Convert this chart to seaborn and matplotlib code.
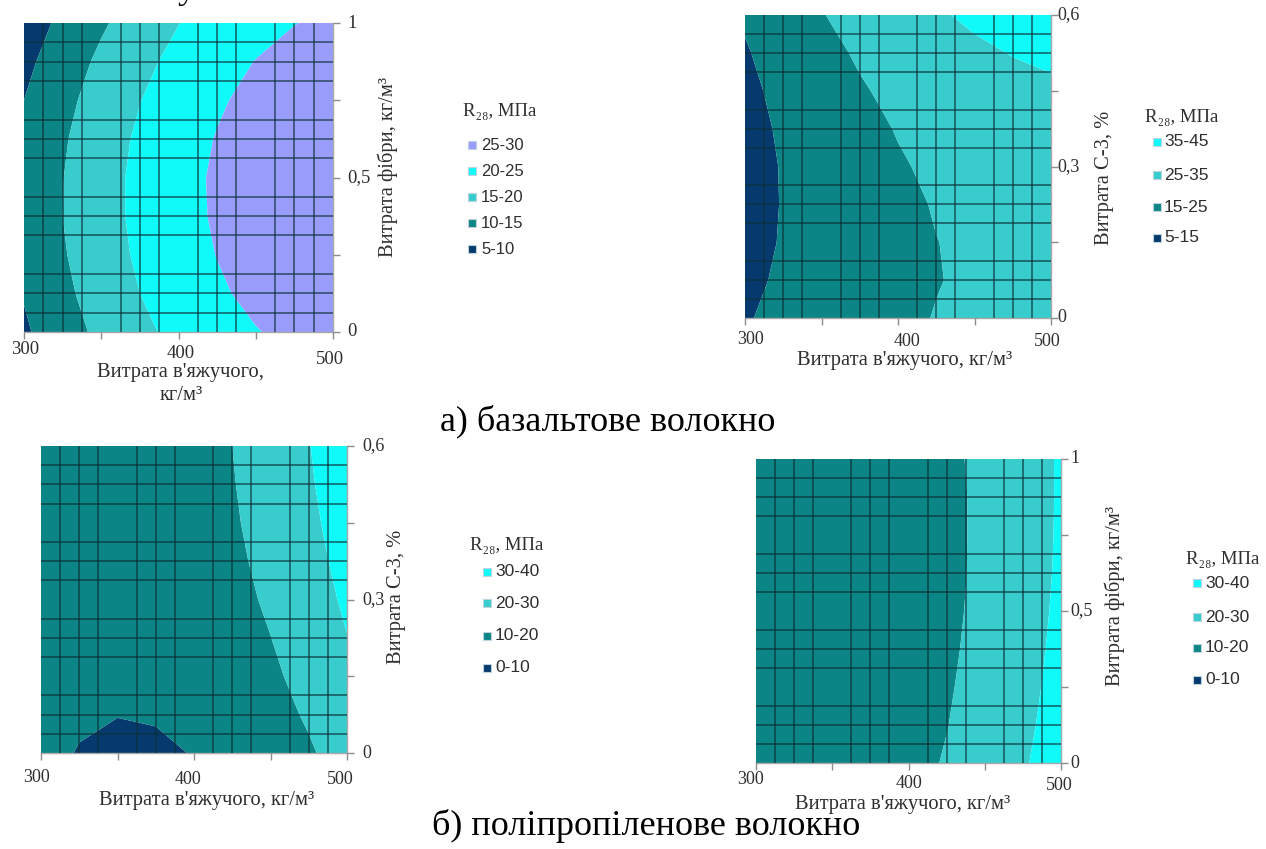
import numpy as np
import matplotlib
matplotlib.use('Agg')
import matplotlib.pyplot as plt
import seaborn as sns
from matplotlib.patches import Rectangle

# ---------------- data ----------------
binder = [300, 325, 350, 375, 400, 425, 450, 475, 500]          # кг/м³
fibre = [0, 0.125, 0.25, 0.375, 0.5, 0.625, 0.75, 0.875, 1.0]   # кг/м³
s3 = [0, 0.075, 0.15, 0.225, 0.3, 0.375, 0.45, 0.525, 0.6]      # %

# R28, МПа — rows follow the y values (bottom -> top), columns follow binder
z_basalt_fibre = [
    [9.3, 12.9, 16.1, 18.9, 21.3, 23.3, 24.8, 26.0, 26.7],
    [10.3, 13.9, 17.2, 20.0, 22.4, 24.4, 26.0, 27.1, 27.9],
    [11.0, 14.6, 17.9, 20.7, 23.1, 25.1, 26.7, 27.9, 28.7],
    [11.3, 15.0, 18.2, 21.1, 23.5, 25.5, 27.1, 28.3, 29.1],
    [11.2, 14.9, 18.2, 21.1, 23.5, 25.6, 27.2, 28.4, 29.2],
    [10.8, 14.5, 17.8, 20.7, 23.2, 25.2, 26.8, 28.1, 28.9],
    [10.0, 13.7, 17.0, 19.9, 22.4, 24.5, 26.1, 27.4, 28.2],
    [8.8, 12.6, 15.9, 18.8, 21.3, 23.4, 25.1, 26.3, 27.2],
    [7.3, 11.1, 14.4, 17.3, 19.9, 22.0, 23.6, 24.9, 25.8]]
z_basalt_s3 = [
    [14.3, 17.3, 20.0, 22.2, 23.9, 25.2, 26.0, 26.4, 26.3],
    [13.0, 16.3, 19.1, 21.4, 23.3, 24.8, 25.8, 26.4, 26.5],
    [12.1, 15.6, 18.6, 21.1, 23.2, 24.9, 26.1, 26.8, 27.1],
    [11.7, 15.4, 18.5, 21.3, 23.5, 25.4, 26.7, 27.6, 28.1],
    [11.7, 15.5, 18.9, 21.8, 24.3, 26.3, 27.8, 28.9, 29.6],
    [12.2, 16.1, 19.7, 22.8, 25.4, 27.6, 29.3, 30.6, 31.4],
    [13.0, 17.2, 20.9, 24.2, 27.0, 29.4, 31.3, 32.7, 33.7],
    [14.3, 18.6, 22.5, 26.0, 29.0, 31.5, 33.6, 35.3, 36.5],
    [16.0, 20.5, 24.6, 28.2, 31.4, 34.1, 36.4, 38.2, 39.6]]
z_pp_s3 = [
    [11.7, 9.7, 8.9, 9.1, 10.2, 12.2, 15.1, 19.0, 23.9],
    [12.4, 10.8, 10.1, 10.4, 11.6, 13.8, 16.9, 21.0, 26.0],
    [12.9, 11.5, 11.0, 11.4, 12.8, 15.2, 18.5, 22.8, 28.0],
    [13.3, 12.0, 11.7, 12.3, 13.9, 16.4, 19.9, 24.4, 29.8],
    [13.4, 12.4, 12.2, 13.0, 14.8, 17.5, 21.2, 25.8, 31.4],
    [13.4, 12.5, 12.6, 13.6, 15.5, 18.4, 22.2, 27.0, 32.8],
    [13.2, 12.5, 12.7, 13.9, 16.0, 19.1, 23.1, 28.1, 34.0],
    [12.9, 12.3, 12.7, 14.1, 16.4, 19.6, 23.8, 29.0, 35.1],
    [12.3, 11.9, 12.5, 14.1, 16.5, 20.0, 24.4, 29.7, 36.0]]
z_pp_fibre = [
    [12.4, 12.5, 13.4, 15.1, 17.5, 20.6, 24.5, 29.1, 34.5],
    [11.9, 12.0, 12.8, 14.4, 16.7, 19.8, 23.6, 28.2, 33.5],
    [11.5, 11.6, 12.4, 13.9, 16.2, 19.2, 23.0, 27.5, 32.7],
    [11.3, 11.3, 12.0, 13.5, 15.7, 18.7, 22.4, 26.9, 32.1],
    [11.2, 11.1, 11.8, 13.3, 15.4, 18.3, 22.0, 26.4, 31.6],
    [11.3, 11.1, 11.8, 13.2, 15.3, 18.1, 21.7, 26.1, 31.2],
    [11.5, 11.3, 11.9, 13.2, 15.3, 18.1, 21.6, 25.9, 31.0],
    [11.8, 11.6, 12.1, 13.4, 15.4, 18.1, 21.6, 25.9, 30.9],
    [12.3, 12.0, 12.5, 13.7, 15.7, 18.4, 21.8, 26.0, 30.9]]

levels_a1 = [5, 10, 15, 20, 25, 30]
levels_a2 = [5, 15, 25, 35, 45]
levels_b = [0, 10, 20, 30, 40]
x_ticks = [300, 350, 400, 450, 500]
x_ticklabels = ['300', '', '400', '', '500']
fib_ticks = [0, 0.25, 0.5, 0.75, 1.0]
fib_ticklabels = ['0', '', '0,5', '', '1']
s3_ticks = [0, 0.15, 0.3, 0.45, 0.6]
s3_ticklabels = ['0', '', '0,3', '', '0,6']

# ---------------- styling ----------------
W, H = 1266, 849
sns.set_theme(style='white')
plt.rcParams['font.family'] = ['Liberation Serif', 'DejaVu Serif']

NAVY, DTEAL, LTEAL, CYAN, PURP = '#063a6e', '#0b8585', '#38cccc', '#10fafa', '#9a9cfc'
TXT = '#2e2e2e'

fig = plt.figure(figsize=(W / 100, H / 100), dpi=100)


def px(x, y):
    return x / W, 1 - y / H


def panel(rect, x, y, Z, bounds, colors, yt, ytl, xlab_off, ylab_dx, ylab, ylabpos,
          xlabs, legend, leg, fs_tick=13, fs_lab=14.8):
    x0, y0, x1, y1 = rect
    ax = fig.add_axes([x0 / W, 1 - y1 / H, (x1 - x0) / W, (y1 - y0) / H])
    Z = np.asarray(Z)
    lv = [min(Z.min(), bounds[0]) - 1] + list(bounds[1:-1]) + [max(Z.max(), bounds[-1]) + 1]
    ax.contourf(x, y, Z, levels=lv, colors=colors, antialiased=True)
    ax.set_xlim(x[0], x[-1])
    ax.set_ylim(y[0], y[-1])
    ax.set_xticks(np.linspace(x[0], x[-1], 17), minor=True)
    ax.set_yticks(np.linspace(y[0], y[-1], 17), minor=True)
    ax.grid(which='minor', color='#0b3038', lw=1.3, alpha=0.66)
    ax.grid(which='major', visible=False)
    ax.set_axisbelow(False)
    ax.set_xticks(x_ticks)
    ax.yaxis.tick_right()
    ax.set_yticks(yt)
    ax.tick_params(which='major', direction='out', length=5, color='#8c8c8c', width=1,
                   labelbottom=False, labelright=False, labelleft=False,
                   bottom=True, right=True, left=False, top=False)
    ax.tick_params(which='minor', length=0)
    for s in ['left', 'top']:
        ax.spines[s].set_visible(False)
    for s in ['right', 'bottom']:
        ax.spines[s].set_color('#a8a8a8')
        ax.spines[s].set_linewidth(1)
    for val, lab, (dx, dy) in zip(x_ticks, x_ticklabels, xlab_off):
        if lab:
            ax.annotate(lab, xy=(val, 0), xycoords=('data', 'axes fraction'), xytext=(dx, dy),
                        textcoords='offset pixels', ha='center', va='center',
                        fontsize=fs_tick, color=TXT)
    for val, lab in zip(yt, ytl):
        if lab:
            ax.annotate(lab, xy=(1, val), xycoords=('axes fraction', 'data'), xytext=(ylab_dx, 0),
                        textcoords='offset pixels', ha='left', va='center',
                        fontsize=fs_tick, color=TXT)
    fig.text(*px(*ylabpos), ylab, rotation=90, ha='center', va='center', fontsize=fs_lab, color=TXT)
    for lx, ly, s in xlabs:
        fig.text(*px(lx, ly), s, ha='center', va='center', fontsize=fs_lab, color=TXT)
    tx, ty, mx, tx2, ys, fsl, sq = leg
    fig.text(*px(tx, ty), 'R₂₈, МПа', ha='left', va='center', fontsize=13.5, color=TXT,
             family=['Liberation Serif', 'DejaVu Serif'])
    for (lab, c), yy in zip(legend, ys):
        fig.add_artist(Rectangle(px(mx - sq / 2, yy + sq / 2), sq / W, sq / H,
                                 transform=fig.transFigure, facecolor=c,
                                 edgecolor='#bfd3dc', lw=0.8))
        fig.text(*px(tx2, yy), lab, ha='left', va='center', fontsize=fsl, color=TXT,
                 family=['Liberation Sans', 'DejaVu Sans'])
    return ax


XL = "Витрата в'яжучого, кг/м³"

panel((24, 23, 333, 332), binder, fibre, z_basalt_fibre, levels_a1,
      [NAVY, DTEAL, LTEAL, CYAN, PURP], fib_ticks, fib_ticklabels,
      [(1, -18), (0, 0), (2, -22), (0, 0), (-3, -27)], 14, 'Витрата фібри, кг/м³', (388, 167),
      [(180, 372, "Витрата в'яжучого,"), (181, 395, 'кг/м³')],
      [('25-30', PURP), ('20-25', CYAN), ('15-20', LTEAL), ('10-15', DTEAL), ('5-10', NAVY)],
      (463, 112, 472, 481, [145, 171, 197, 223, 249], 12, 8), fs_tick=13.5)

panel((745, 15, 1051, 318), binder, s3, z_basalt_s3, levels_a2,
      [NAVY, DTEAL, LTEAL, CYAN], s3_ticks, s3_ticklabels,
      [(5, -21), (0, 0), (9, -23), (0, 0), (-4, -24)], 6, 'Витрата С-3, %', (1104, 178),
      [(905, 361, XL)],
      [('35-45', CYAN), ('25-35', LTEAL), ('15-25', DTEAL), ('5-15', NAVY)],
      (1145, 118, 1157, 1164, [142, 175, 207, 238], 12.5, 8))

panel((41, 446, 347, 753), binder, s3, z_pp_s3, levels_b,
      [NAVY, DTEAL, LTEAL, CYAN], s3_ticks, s3_ticklabels,
      [(-5, -24), (0, 0), (-6, -26), (0, 0), (-7, -26)], 15, 'Витрата С-3, %', (396, 597),
      [(207, 801, XL)],
      [('30-40', CYAN), ('20-30', LTEAL), ('10-20', DTEAL), ('0-10', NAVY)],
      (470, 545, 487, 495, [572, 603, 636, 668], 12.5, 8))

panel((756, 459, 1061, 763), binder, fibre, z_pp_fibre, levels_b,
      [NAVY, DTEAL, LTEAL, CYAN], fib_ticks, fib_ticklabels,
      [(-5, -17), (0, 0), (0, -21), (0, 0), (-2, -23)], 9, 'Витрата фібри, кг/м³', (1115, 596),
      [(903, 804, XL)],
      [('30-40', CYAN), ('20-30', LTEAL), ('10-20', DTEAL), ('0-10', NAVY)],
      (1186, 559, 1197, 1205, [583, 617, 648, 680], 12.5, 8))

fig.text(*px(608, 430), 'а) базальтове волокно', ha='center', va='baseline', fontsize=26, color='black')
fig.text(*px(646, 835), 'б) поліпропіленове волокно', ha='center', va='baseline', fontsize=26, color='black')
fig.text(*px(187, -2), 'у', ha='center', va='baseline', fontsize=26, color='black')

fig.savefig('out.png', dpi=100)
